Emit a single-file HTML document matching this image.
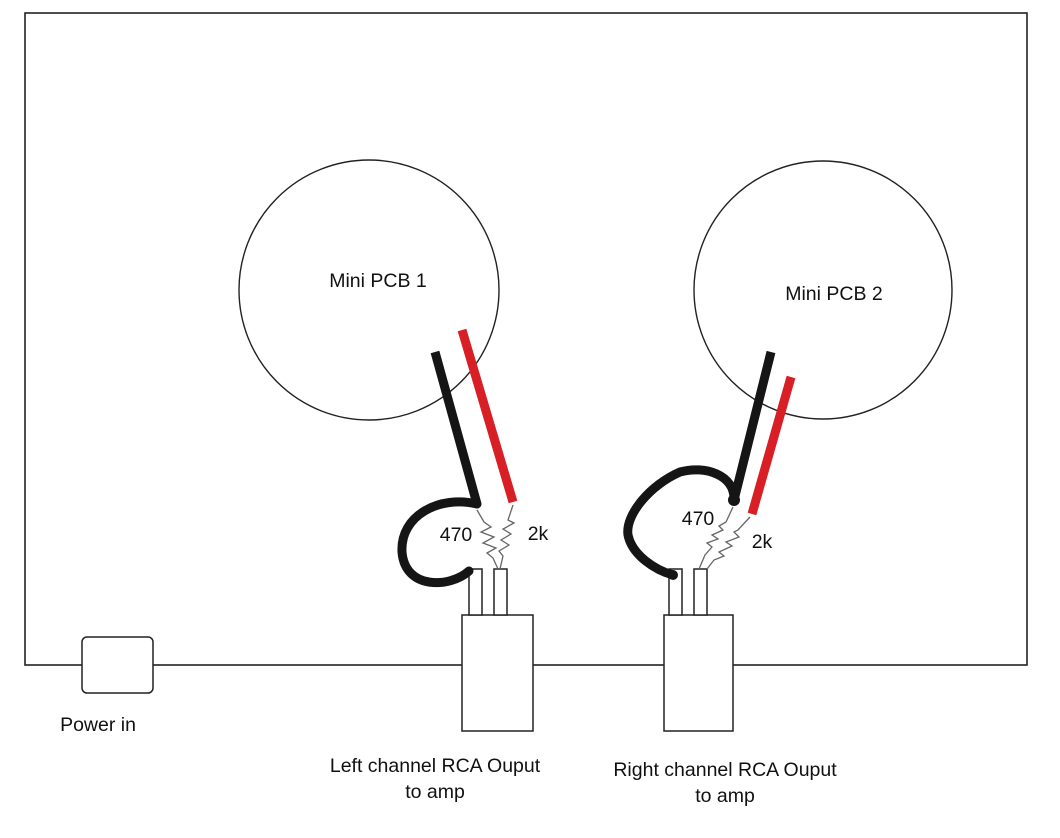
<!DOCTYPE html>
<html><head><style>
html,body{margin:0;padding:0;background:#fff}
svg{display:block}
text{font-family:"Liberation Sans",sans-serif;font-size:19.5px;fill:#111}
</style></head><body>
<svg width="1060" height="838" viewBox="0 0 1060 838" xmlns="http://www.w3.org/2000/svg">
<rect x="25" y="13" width="1002" height="652" fill="none" stroke="#222" stroke-width="1.6"/>
<circle cx="369" cy="290" r="130" fill="none" stroke="#222" stroke-width="1.4"/>
<circle cx="823" cy="290" r="129" fill="none" stroke="#222" stroke-width="1.4"/>
<text x="378" y="287" text-anchor="middle">Mini PCB 1</text>
<text x="834" y="300" text-anchor="middle">Mini PCB 2</text>

<rect x="82" y="637" width="71" height="56" rx="5" fill="#fff" stroke="#222" stroke-width="1.5"/>
<rect x="462" y="615" width="71" height="116" fill="#fff" stroke="#222" stroke-width="1.5"/>
<rect x="664" y="615" width="69" height="116" fill="#fff" stroke="#222" stroke-width="1.5"/>

<rect x="469" y="569" width="13" height="46" fill="#fff" stroke="#222" stroke-width="1.5"/>
<rect x="494" y="569" width="13" height="46" fill="#fff" stroke="#222" stroke-width="1.5"/>
<rect x="669" y="569" width="13" height="46" fill="#fff" stroke="#222" stroke-width="1.5"/>
<rect x="694" y="569" width="13" height="46" fill="#fff" stroke="#222" stroke-width="1.5"/>

<polyline fill="none" stroke="#666" stroke-width="1.3" points="477,510 484,522 491,527 481,532 494,537 483,543 496,548 487,553 493,558 498,569"/>
<polyline fill="none" stroke="#666" stroke-width="1.3" points="513,505 508,520 514,523 503,529 511,534 501,540 509,545 499,551 503,556 500,569"/>
<line x1="435" y1="352" x2="477" y2="504" stroke="#151515" stroke-width="9"/>
<line x1="462" y1="330" x2="513" y2="502" stroke="#d81f26" stroke-width="9"/>
<path d="M477,504 C440,495 400,515 402,552 C405,590 450,588 469,571" fill="none" stroke="#151515" stroke-width="9" stroke-linecap="round"/>

<polyline fill="none" stroke="#666" stroke-width="1.3" points="733,507 726,522 719,526 723,530 712,535 718,539 707,543 712,547 705,555 699,569"/>
<polyline fill="none" stroke="#666" stroke-width="1.3" points="750,517 738,530 734,532 739,537 726,542 732,546 719,552 724,556 714,560 707,569"/>
<line x1="771" y1="352" x2="734" y2="500" stroke="#151515" stroke-width="9"/>
<line x1="791" y1="377" x2="752" y2="514" stroke="#d81f26" stroke-width="9"/>
<path d="M734,500 C735,475 705,465 680,472 C650,485 625,515 628,535 C632,555 655,570 673,575" fill="none" stroke="#151515" stroke-width="9" stroke-linecap="round"/>
<circle cx="734" cy="500" r="6" fill="#151515"/>
<circle cx="673" cy="575" r="5" fill="#151515"/>

<text x="456" y="541" text-anchor="middle">470</text>
<text x="538" y="540" text-anchor="middle">2k</text>
<text x="698" y="525" text-anchor="middle">470</text>
<text x="762" y="548" text-anchor="middle">2k</text>

<text x="98" y="731" text-anchor="middle">Power in</text>
<text x="435" y="772" text-anchor="middle">Left channel RCA Ouput</text>
<text x="435" y="798" text-anchor="middle">to amp</text>
<text x="725" y="776" text-anchor="middle">Right channel RCA Ouput</text>
<text x="725" y="802" text-anchor="middle">to amp</text>
</svg>
</body></html>
